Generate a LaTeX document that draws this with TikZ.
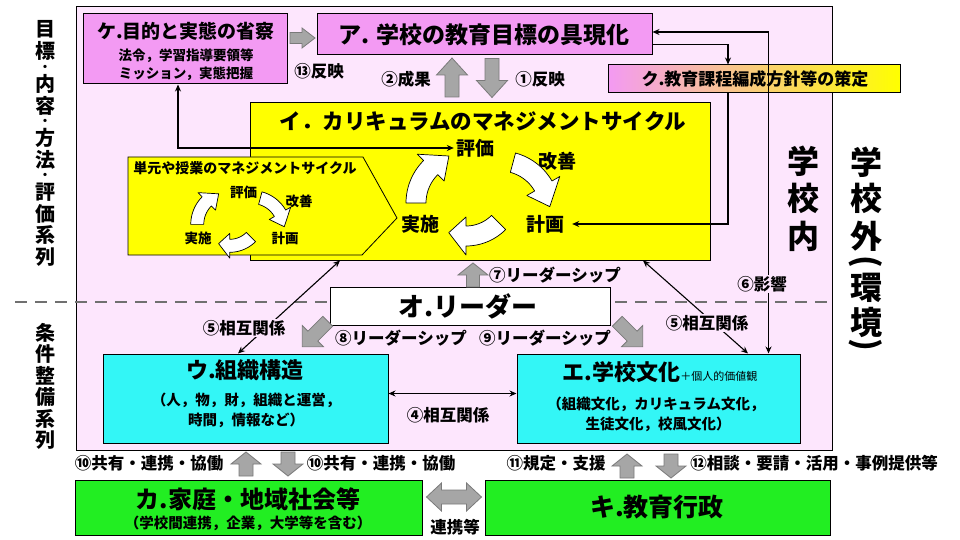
\documentclass[tikz,border=0pt]{standalone}
\usepackage{fontspec}
\setmainfont{Noto Sans CJK JP}
\usetikzlibrary{arrows.meta,calc}
\definecolor{pinkbg}{HTML}{FDE6FD}
\definecolor{mag}{HTML}{F39AF3}
\definecolor{yel}{HTML}{FFFF00}
\definecolor{cyanbox}{HTML}{33F6F6}
\definecolor{greenbox}{HTML}{22EE22}
\definecolor{garrfill}{HTML}{A6A6A6}
\definecolor{garrline}{HTML}{7A7A7A}
\definecolor{dashc}{HTML}{707070}
\newcommand{\myfs}[1]{\fontsize{#1}{#1}\selectfont}
% gray block arrow: x, y, angle, length, shaft half width, head half width, head length
\newcommand{\garr}[7]{\begin{scope}[shift={(#1,#2)},rotate=#3]
\filldraw[garrow] ({-(#4)/2},{-(#5)}) -- ({(#4)/2-(#7)},{-(#5)}) -- ({(#4)/2-(#7)},{-(#6)}) -- ({(#4)/2},0) -- ({(#4)/2-(#7)},{#6}) -- ({(#4)/2-(#7)},{#5}) -- ({-(#4)/2},{#5}) -- cycle;
\end{scope}}
% white curved arrow: cx, cy, r, start, end, half width, head half width, tip angle
\newcommand{\curvarrow}[8]{%
\filldraw[wcurve] plot[domain=#4:#5, samples=16] ({#1+(#3+#6)*cos(\x)},{#2+(#3+#6)*sin(\x)})
 -- ({#1+(#3+#7)*cos(#5)},{#2+(#3+#7)*sin(#5)})
 -- ({#1+(#3)*cos(#8)},{#2+(#3)*sin(#8)})
 -- ({#1+(#3-#7)*cos(#5)},{#2+(#3-#7)*sin(#5)})
 -- plot[domain=#5:#4, samples=16] ({#1+(#3-#6)*cos(\x)},{#2+(#3-#6)*sin(\x)})
 -- cycle;}
\begin{document}
\begin{tikzpicture}[x=1pt,y=-1pt,
 box/.style={draw=black, line width=1pt, inner sep=0pt, rectangle},
 conn/.style={draw=black, line width=1.1pt},
 arr/.style={-{Stealth[length=7pt,width=6pt]}},
 darr/.style={{Stealth[length=7pt,width=6pt]}-{Stealth[length=7pt,width=6pt]}},
 garrow/.style={fill=garrfill, draw=garrline, line width=0.8pt},
 wcurve/.style={fill=white, draw=black, line width=0.7pt, line join=round},
 lbl/.style={inner sep=1pt, font=\myfs{16.5}\bfseries},
 vt/.style={font=\myfs{20}\bfseries, inner sep=0pt},
 vtd/.style={font=\myfs{12}\bfseries, inner sep=0pt},
 vr/.style={font=\myfs{32}\bfseries, inner sep=0pt}]
\useasboundingbox (0,0) rectangle (960,540);
\fill[white] (0,0) rectangle (960,540);

% school frame
\node[box, fill=pinkbg, minimum width=756pt, minimum height=443pt] (school) at (454,228.5) {};
\coordinate (dashL) at (15,302);
\draw[dashc, line width=2.5pt, dash pattern=on 12pt off 8pt] (dashL) -- (dashL -| school.east);

% boxes
\node[box, fill=mag, minimum width=204pt, minimum height=70pt] (ke) at (185,49) {};
\node[box, fill=mag, minimum width=335pt, minimum height=41pt] (a) at (484.5,34.5) {};
\node[box, left color=mag, right color=yel, minimum width=292pt, minimum height=28pt] (ku) at (754,79) {};
\node[box, fill=yel, minimum width=460pt, minimum height=157pt] (i) at (480,181.5) {};
\filldraw[fill=yel, draw=black, line width=0.8pt] (128,157) -- (363,157) -- (397,218) -- (362,255) -- (128,255) -- cycle;
\node[box, fill=white, minimum width=280pt, minimum height=38pt] (o) at (470,306) {};
\node[box, fill=cyanbox, minimum width=285pt, minimum height=89pt] (u) at (245.5,398.5) {};
\node[box, fill=cyanbox, minimum width=283pt, minimum height=89pt] (e) at (658.5,398.5) {};
\node[box, fill=greenbox, minimum width=347pt, minimum height=55pt] (ka) at (248.5,507.5) {};
\node[box, fill=greenbox, minimum width=345pt, minimum height=55pt] (ki) at (657.5,507.5) {};

% box texts
\node[font=\myfs{19}\bfseries] (keT) at (186,31) {ケ.目的と実態の省察};
\node[font=\myfs{13.5}\bfseries] (keS1) at (186,56) {法令，学習指導要領等};
\node[font=\myfs{13.5}\bfseries] (keS2) at (186,74) {ミッション，実態把握};
\node[font=\myfs{23}\bfseries] (aT) at (484,35) {ア. 学校の教育目標の具現化};
\node[font=\myfs{17}\bfseries] (kuT) at (755,79) {ク.教育課程編成方針等の策定};
\node[font=\myfs{21.5}\bfseries] (iT) at (483,121) {イ．カリキュラムのマネジメントサイクル};
\node[font=\myfs{14}\bfseries] (tanT) at (245,168) {単元や授業のマネジメントサイクル};
\node[font=\myfs{26}\bfseries] (oT) at (468,306) {オ.リーダー};
\node[font=\myfs{22}\bfseries] (uT) at (245,370) {ウ.組織構造};
\node[font=\myfs{14.5}\bfseries] (uS1) at (246,400) {（人，物，財，組織と運営，};
\node[font=\myfs{14.5}\bfseries] (uS2) at (246,420) {時間，情報など）};
\node[font=\myfs{22}\bfseries] (eT) at (660,372) {エ.学校文化{\myfs{11}\mdseries ＋個人的価値観}};
\node[font=\myfs{14.5}\bfseries] (eS1) at (656,404) {（組織文化，カリキュラム文化，};
\node[font=\myfs{14.5}\bfseries] (eS2) at (658,424) {生徒文化，校風文化）};
\node[font=\myfs{24}\bfseries] (kaT) at (248,499) {カ.家庭・地域社会等};
\node[font=\myfs{14.5}\bfseries] (kaS) at (248,523) {（学校間連携，企業，大学等を含む）};
\node[font=\myfs{25}\bfseries] (kiT) at (657,507) {キ.教育行政};

% big cycle
\node[font=\myfs{19}\bfseries, inner sep=2pt] (hyoka) at (475,148) {評価};
\node[font=\myfs{19}\bfseries] (kaizen) at (557,161) {改善};
\node[font=\myfs{19}\bfseries, inner sep=2pt] (keikaku) at (545,224) {計画};
\node[font=\myfs{19}\bfseries] (jissi) at (420,224) {実施};
\curvarrow{466}{203}{50}{180}{225}{10}{19}{250}
\curvarrow{500}{211}{50}{285}{330}{10}{19}{355}
\curvarrow{466}{190}{46}{45}{90}{10}{19}{112}

% small cycle
\node[font=\myfs{13.5}\bfseries] (shyoka) at (243.5,192) {評価};
\node[font=\myfs{13.5}\bfseries] (skaizen) at (299,201.5) {改善};
\node[font=\myfs{13.5}\bfseries] (skeikaku) at (285,238.5) {計画};
\node[font=\myfs{13.5}\bfseries] (sjissi) at (198,238) {実施};
\begin{scope}[shift={(240.5,238)},scale=0.65,shift={(-482.5,-224)}]
\curvarrow{466}{203}{50}{180}{225}{10}{19}{250}
\curvarrow{500}{211}{50}{285}{330}{10}{19}{355}
\curvarrow{466}{190}{46}{45}{90}{10}{19}{112}
\end{scope}

% connectors
\draw[conn, darr] ([xshift=-7pt]ke.south) |- (hyoka.west);
\draw[conn, arr] ([yshift=-10pt]a.east) -| ([xshift=-26pt]ku.north);
\draw[conn, arr] ([xshift=-26pt]ku.south) |- ([xshift=6pt]keikaku.east);
\draw[conn, darr] ([yshift=2.5pt]a.east) -| ([xshift=110pt]e.north);
\draw[conn, darr] ([xshift=-7.5pt]u.north) -- ([xshift=-140pt]i.south);
\draw[conn, darr] ([xshift=89.5pt]e.north) -- ([xshift=163pt]i.south);
\draw[conn, darr] ([yshift=5pt]u.east) -- ([yshift=5pt]e.west);

% gray block arrows
\garr{302.5}{38}{0}{25}{5.5}{10}{13}
\garr{452}{77.5}{90}{39}{7}{15.5}{17}
\garr{492}{78}{-90}{39}{7}{15.5}{17}
\garr{473}{275}{90}{24}{6.5}{15}{12}
\garr{315}{334}{-135}{36}{7}{15}{15}
\garr{630}{334}{-45}{36}{7}{15}{15}
\garr{246}{464}{90}{24}{7}{15}{12}
\garr{288}{464}{-90}{24}{7}{15}{12}
\garr{627}{466}{90}{24}{7}{15}{12}
\garr{671}{466}{-90}{24}{7}{15}{12}
\filldraw[garrow] (426.5,497) -- (441.5,483) -- (441.5,490) -- (466.5,490) -- (466.5,483) -- (481.5,497) -- (466.5,511) -- (466.5,504) -- (441.5,504) -- (441.5,511) -- cycle;

% labels
\node[lbl] (l13) at (319,71) {⑬反映};
\node[lbl] (l2) at (406,79) {②成果};
\node[lbl] (l1) at (540,79) {①反映};
\node[lbl] (l7) at (555,275) {⑦リーダーシップ};
\node[lbl] (l8) at (401,338) {⑧リーダーシップ};
\node[lbl] (l9) at (545,338) {⑨リーダーシップ};
\node[lbl, fill=pinkbg] (l5a) at (244,328) {⑤相互関係};
\node[lbl, fill=pinkbg] (l5b) at (707,323) {⑤相互関係};
\node[lbl, fill=pinkbg] (l6) at (762,284) {⑥影響};
\node[lbl] (l4) at (448,415) {④相互関係};
\node[lbl] (l10a) at (149,463) {⑩共有・連携・協働};
\node[lbl] (l10b) at (381,463) {⑩共有・連携・協働};
\node[lbl] (l11) at (556,463) {⑪規定・支援};
\node[lbl] (l12) at (814,463) {⑫相談・要請・活用・事例提供等};
\node[lbl] (lr) at (455,527) {連携等};

% left vertical texts
\foreach \c/\y [count=\n] in {目/29.75,標/51.25,内/84.25,容/105.75,方/138.25,法/159.75,評/192.25,価/213.75,系/235.25,列/256.75}
  \node[vt] (lv\n) at (45,\y) {\c};
\foreach \y [count=\n] in {68,122,176}
  \node[vtd] (ld\n) at (45,\y) {・};
\foreach \c/\y [count=\n] in {条/332.75,件/354.25,整/375.75,備/397.25,系/418.75,列/440.25}
  \node[vt] (lw\n) at (45,\y) {\c};

% right vertical texts
\node[vr] (in1) at (803,161.5) {学};
\node[vr] (in2) at (803,198) {校};
\node[vr] (in3) at (803,236) {内};
\node[vr] (out1) at (866,162.5) {学};
\node[vr] (out2) at (866,198) {校};
\node[vr] (out3) at (866,236) {外};
\node[vr, rotate=-90] (out4) at (866,262) {(};
\node[vr] (out5) at (866,287.5) {環};
\node[vr] (out6) at (866,322) {境};
\node[vr, rotate=-90] (out7) at (866,345) {)};
\end{tikzpicture}
\end{document}
